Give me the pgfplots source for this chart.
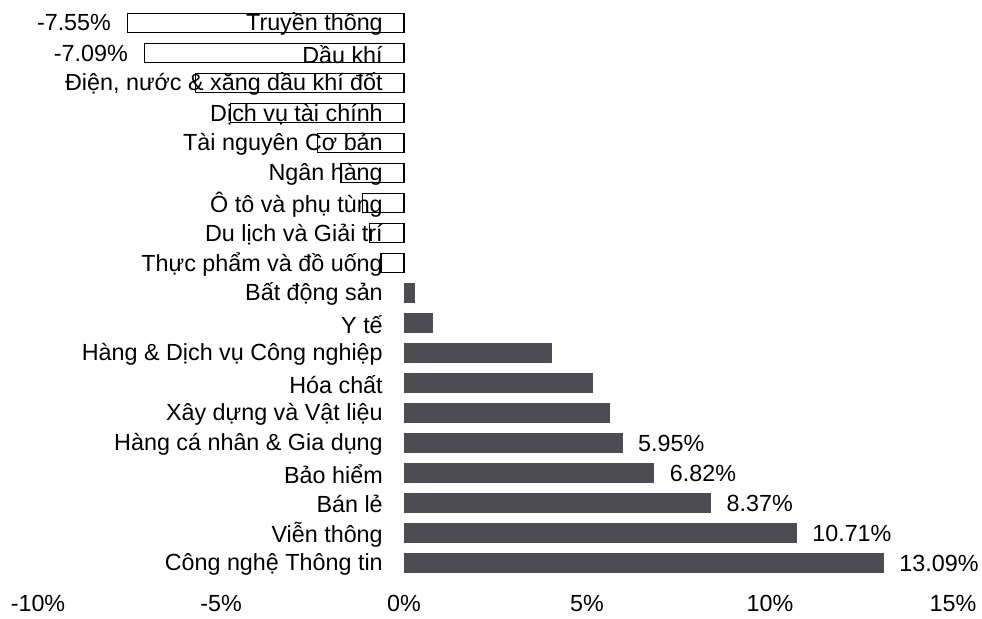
\documentclass[border=0pt]{standalone}
\usepackage{pgfplots}
\pgfplotsset{compat=1.18}
\usepackage{fontspec}
\setmainfont{Liberation Sans}
\definecolor{barpos}{RGB}{76,76,82}

\begin{document}
\begin{tikzpicture}
\begin{axis}[
    scale only axis,
    width=736.5pt, height=442.5pt,
    xmin=-11.038, xmax=15.79,
    ymin=-0.767, ymax=18.9,
    y dir=reverse,
    axis line style={draw=none},
    major tick length=0pt,
    xtick={-10,-5,0,5,10,15},
    xticklabels={-10\%,-5\%,0\%,5\%,10\%,15\%},
    ytick={0,...,18},
    yticklabels={Truyền thông, Dầu khí, {Điện, nước \& xăng dầu khí đốt}, Dịch vụ tài chính,
        Tài nguyên Cơ bản, Ngân hàng, Ô tô và phụ tùng, Du lịch và Giải trí,
        Thực phẩm và đồ uống, Bất động sản, Y tế, Hàng \& Dịch vụ Công nghiệp,
        Hóa chất, Xây dựng và Vật liệu, Hàng cá nhân \& Gia dụng, Bảo hiểm,
        Bán lẻ, Viễn thông, Công nghệ Thông tin},
    tick label style={font=\fontsize{17.5}{20}\selectfont},
    yticklabel style={anchor=east, inner sep=0pt, xshift=287.25pt, yshift=-1pt},
    xticklabel style={anchor=north, inner sep=0pt, yshift=-3.75pt},
    xbar,
    every axis plot/.append style={bar shift=0pt, bar width=14.6pt},
    clip=false,
    nodes near coords={\pgfplotspointmeta},
    every node near coord/.append style={font=\fontsize{17.5}{20}\selectfont, inner sep=0pt},
]

% negative sectors with value labels
\addplot[draw=black, fill=none, line width=1.1pt,
    point meta=explicit symbolic,
    every node near coord/.append style={anchor=east, xshift=-12pt}]
coordinates {
    (-7.55,0) [-7.55\%]
    (-7.09,1) [-7.09\%]
};

% negative sectors, no labels
\addplot[draw=black, fill=none, line width=1.1pt, nodes near coords={}]
coordinates {
    (-5.70,2)
    (-4.74,3)
    (-2.36,4)
    (-1.72,5)
    (-1.13,6)
    (-0.95,7)
    (-0.63,8)
};

% positive sectors, no labels
\addplot[draw=barpos, fill=barpos, nodes near coords={}]
coordinates {
    (0.27,9)
    (0.78,10)
    (4.01,11)
    (5.14,12)
    (5.60,13)
};

% positive sectors with value labels
\addplot[draw=barpos, fill=barpos,
    point meta=explicit symbolic,
    every node near coord/.append style={anchor=west, xshift=12pt}]
coordinates {
    (5.95,14) [5.95\%]
    (6.82,15) [6.82\%]
    (8.37,16) [8.37\%]
    (10.71,17) [10.71\%]
    (13.09,18) [13.09\%]
};

\end{axis}
\pgfresetboundingbox
\path (current axis.north west) rectangle ([yshift=-21pt]current axis.south east);
\end{tikzpicture}
\end{document}
